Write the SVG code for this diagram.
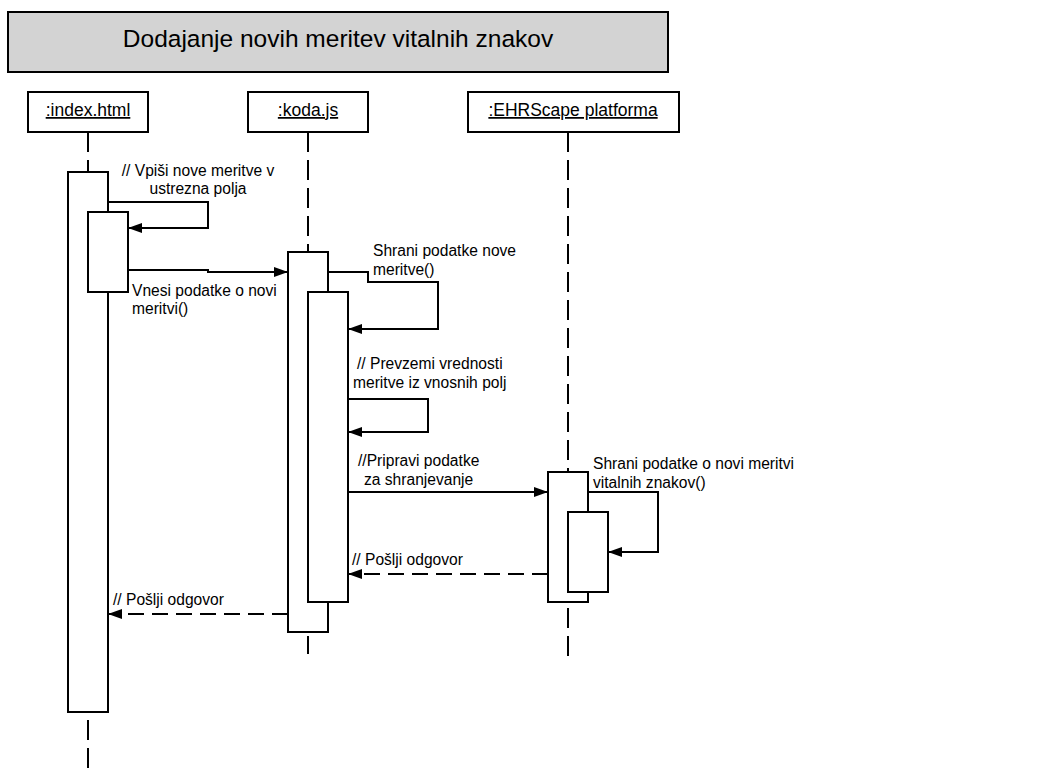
<svg xmlns="http://www.w3.org/2000/svg" width="1052" height="770" viewBox="0 0 1052 770">
<defs>
<marker id="arr" viewBox="0 0 14 10" refX="14" refY="5" markerWidth="14" markerHeight="10" markerUnits="userSpaceOnUse" orient="auto"><path d="M0,0 L14,5 L0,10 Z" fill="#000"/></marker>
</defs>
<style>
text{font-family:"Liberation Sans",Arial,sans-serif;fill:#000}
.t{font-size:15.6px}
.h{font-size:17.5px;text-decoration:underline}
.box{fill:#fff;stroke:#000;stroke-width:2}
.life{stroke:#000;stroke-width:2;stroke-dasharray:20,8;fill:none}
.msg{stroke:#000;stroke-width:2;fill:none;marker-end:url(#arr)}
.ret{stroke:#000;stroke-width:2;fill:none;stroke-dasharray:16,8;marker-end:url(#arr)}
</style>
<rect width="1052" height="770" fill="#fff"/>
<g id="title">
<rect x="8" y="12" width="660" height="60" fill="#d3d3d3" stroke="#000" stroke-width="2"/>
<text x="338" y="47" text-anchor="middle" font-size="24.5">Dodajanje novih meritev vitalnih znakov</text>
</g>
<g id="lifelines">
<line class="life" x1="88" y1="132" x2="88" y2="770"/>
<line class="life" x1="308" y1="132" x2="308" y2="654"/>
<line class="life" x1="568" y1="132" x2="568" y2="662"/>
</g>
<g id="index">
<rect class="box" x="28" y="92" width="120" height="40"/>
<text class="h" x="88" y="116" text-anchor="middle">:index.html</text>
<rect class="box" x="68" y="172" width="40" height="540"/>
<rect class="box" x="88" y="212" width="40" height="80"/>
</g>
<g id="koda">
<rect class="box" x="248" y="92" width="120" height="40"/>
<text class="h" x="308" y="116" text-anchor="middle">:koda.js</text>
<rect class="box" x="288" y="252" width="40" height="380"/>
<rect class="box" x="308" y="292" width="40" height="310"/>
</g>
<g id="ehr">
<rect class="box" x="468" y="92" width="211" height="40"/>
<text class="h" x="573" y="116" text-anchor="middle">:EHRScape platforma</text>
<rect class="box" x="548" y="472" width="40" height="130"/>
<rect class="box" x="568" y="512" width="40" height="80"/>
</g>
<g id="connectors">
<path class="msg" d="M108,202 H208 V228 H128"/>
<path class="msg" d="M128,270 H208 V272 H288"/>
<path class="msg" d="M328,272 H368 V282 H438 V329 H348"/>
<path class="msg" d="M348,399 H428 V432 H348"/>
<path class="msg" d="M348,492 H548"/>
<path class="msg" d="M588,492 H658 V552 H608"/>
<path class="ret" d="M548,574 H348"/>
<path class="ret" d="M288,614 H108"/>
</g>
<g id="labels">
<text class="t" x="198" y="176" text-anchor="middle">// Vpiši nove meritve v</text>
<text class="t" x="198" y="194" text-anchor="middle">ustrezna polja</text>
<text class="t" x="132" y="296">Vnesi podatke o novi</text>
<text class="t" x="132" y="314">meritvi()</text>
<text class="t" x="373" y="256">Shrani podatke nove</text>
<text class="t" x="373" y="275">meritve()</text>
<text class="t" x="357" y="369">// Prevzemi vrednosti</text>
<text class="t" x="353" y="388">meritve iz vnosnih polj</text>
<text class="t" x="358" y="466">//Pripravi podatke</text>
<text class="t" x="364" y="485">za shranjevanje</text>
<text class="t" x="593" y="469">Shrani podatke o novi meritvi</text>
<text class="t" x="593" y="488">vitalnih znakov()</text>
<text class="t" x="352" y="565">// Pošlji odgovor</text>
<text class="t" x="113" y="605">// Pošlji odgovor</text>
</g>
</svg>
